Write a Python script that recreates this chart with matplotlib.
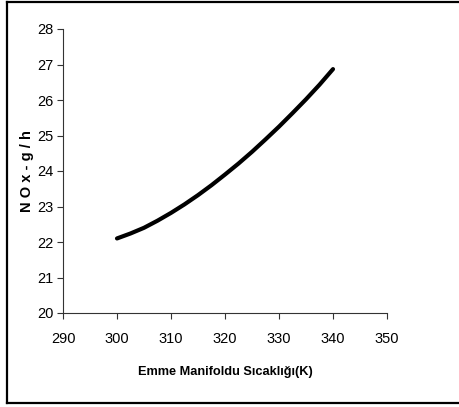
import matplotlib
matplotlib.use('Agg')
import matplotlib.pyplot as plt
from matplotlib.lines import Line2D

# intake manifold temperature (K) vs NOx (g/h)
temp_k = [300, 302.5, 305, 307.5, 310, 312.5, 315, 317.5, 320,
          322.5, 325, 327.5, 330, 332.5, 335, 337.5, 340]
nox_gh = [22.10, 22.24, 22.40, 22.60, 22.82, 23.06, 23.32, 23.60, 23.90,
          24.21, 24.54, 24.89, 25.25, 25.63, 26.02, 26.43, 26.87]
x_ticks = [290, 300, 310, 320, 330, 340, 350]
y_ticks = [20, 21, 22, 23, 24, 25, 26, 27, 28]

plt.rcParams['font.family'] = ['Liberation Sans', 'DejaVu Sans']

fig = plt.figure(figsize=(4.59, 4.07), dpi=100)
ax = fig.add_axes([63/459, 1 - 313/407, (387 - 63)/459, (313 - 29)/407])

ax.plot(temp_k, nox_gh, color='black', lw=3.0, solid_capstyle='round',
        solid_joinstyle='round')

ax.set_xlim(290, 350)
ax.set_ylim(20, 28)
ax.set_xticks(x_ticks)
ax.set_yticks(y_ticks)
ax.tick_params(axis='both', direction='out', length=4, width=0.8, color='#333333',
               labelsize=10.5)
ax.tick_params(axis='x', pad=10)
ax.tick_params(axis='y', pad=3)
for s in ['top', 'right']:
    ax.spines[s].set_visible(False)
for s in ['left', 'bottom']:
    ax.spines[s].set_color('#333333')
    ax.spines[s].set_linewidth(0.8)

ax.set_xlabel('Emme Manifoldu Sıcaklığı(K)', fontsize=9.2, fontweight='bold', labelpad=14)
ax.set_ylabel('N O x - g / h', fontsize=10.5, fontweight='bold', labelpad=2)

# outer frame (right side cut off in the original)
for xs, ys in [([6.5/459, 6.5/459], [1 - 1.5/407, 1 - 403/407]),
               ([6.5/459, 1.0], [1 - 1.5/407, 1 - 1.5/407]),
               ([6.5/459, 1.0], [1 - 403/407, 1 - 403/407])]:
    fig.add_artist(Line2D(xs, ys, color='black', lw=1.6))

fig.savefig('out.png', dpi=100)
